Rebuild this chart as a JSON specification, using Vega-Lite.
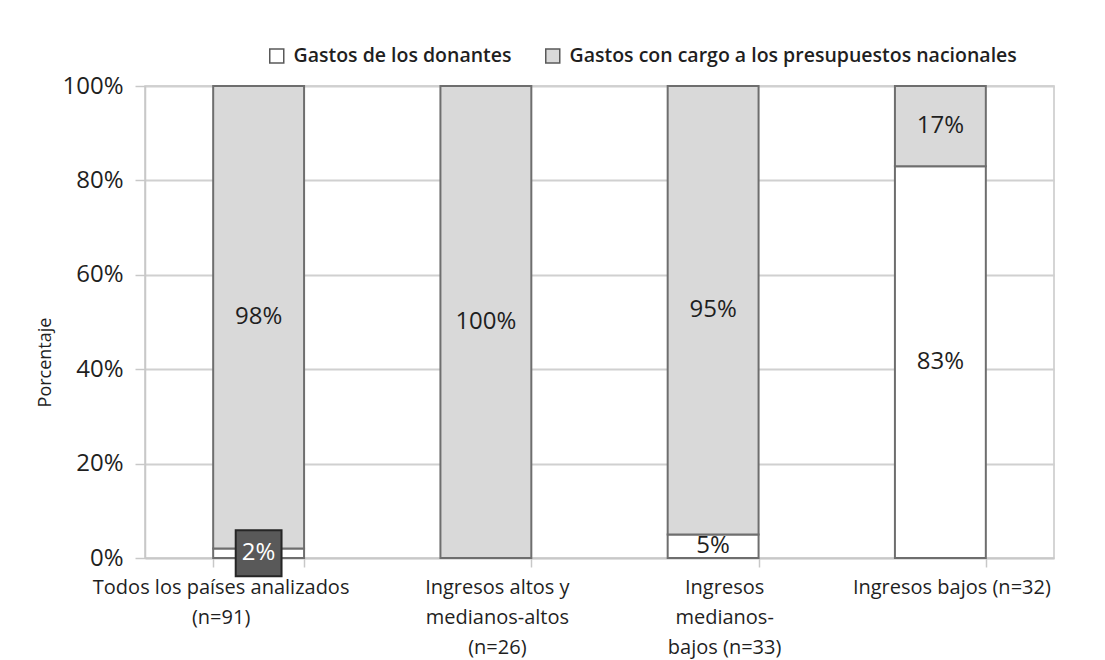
{
  "$schema": "https://vega.github.io/schema/vega-lite/v6.json",
  "width": 909,
  "height": 472,
  "autosize": {"type": "none"},
  "padding": {"left": 145, "top": 86, "right": 51, "bottom": 102},
  "background": "white",
  "config": {
    "font": "Open Sans",
    "view": {"stroke": "#c8c8c8", "strokeWidth": 1.5}
  },
  "data": {
    "values": [
      {"cat": "Todos los países analizados|(n=91)", "serie": "Gastos de los donantes", "valor": 2, "orden": 1, "etiqueta": "2%", "caja": true},
      {"cat": "Todos los países analizados|(n=91)", "serie": "Gastos con cargo a los presupuestos nacionales", "valor": 98, "orden": 2, "etiqueta": "98%", "caja": false},
      {"cat": "Ingresos altos y|medianos-altos|(n=26)", "serie": "Gastos de los donantes", "valor": 0, "orden": 1, "etiqueta": "", "caja": false},
      {"cat": "Ingresos altos y|medianos-altos|(n=26)", "serie": "Gastos con cargo a los presupuestos nacionales", "valor": 100, "orden": 2, "etiqueta": "100%", "caja": false},
      {"cat": "Ingresos|medianos-|bajos (n=33)", "serie": "Gastos de los donantes", "valor": 5, "orden": 1, "etiqueta": "5%", "caja": false},
      {"cat": "Ingresos|medianos-|bajos (n=33)", "serie": "Gastos con cargo a los presupuestos nacionales", "valor": 95, "orden": 2, "etiqueta": "95%", "caja": false},
      {"cat": "Ingresos bajos (n=32)", "serie": "Gastos de los donantes", "valor": 83, "orden": 1, "etiqueta": "83%", "caja": false},
      {"cat": "Ingresos bajos (n=32)", "serie": "Gastos con cargo a los presupuestos nacionales", "valor": 17, "orden": 2, "etiqueta": "17%", "caja": false}
    ]
  },
  "transform": [
    {"stack": "valor", "groupby": ["cat"], "sort": [{"field": "orden", "order": "ascending"}], "as": ["v0", "v1"]},
    {"calculate": "(datum.v0 + datum.v1) / 2", "as": "mid"}
  ],
  "encoding": {
    "x": {
      "field": "cat",
      "type": "nominal",
      "sort": null,
      "scale": {"paddingInner": 0.6, "paddingOuter": 0.3},
      "axis": {
        "title": null,
        "labelAngle": 0,
        "labelExpr": "split(datum.label, '|')",
        "labelFontSize": 20,
        "labelLineHeight": 30,
        "labelPadding": 10,
        "labelLimit": 300,
        "labelColor": "#1f1f1f",
        "labelOffset": {"condition": {"test": "indexof(datum.label, 'Todos') >= 0", "value": -38}, "value": 11},
        "tickBand": "extent",
        "tickSize": 9,
        "tickColor": "#c8c8c8",
        "tickWidth": 1.5,
        "domainColor": "#c8c8c8",
        "domainWidth": 1.5
      }
    }
  },
  "layer": [
    {
      "mark": {"type": "bar", "stroke": "#6e6e6e", "strokeWidth": 2},
      "encoding": {
        "y": {
          "field": "v0",
          "type": "quantitative",
          "scale": {"domain": [0, 100]},
          "axis": {
            "values": [0, 20, 40, 60, 80, 100],
            "labelExpr": "datum.value + '%'",
            "grid": true,
            "gridColor": "#d0d0d0",
            "gridWidth": 2,
            "tickSize": 10,
            "tickColor": "#c8c8c8",
            "tickWidth": 1.5,
            "domainColor": "#c8c8c8",
            "domainWidth": 1.5,
            "labelFontSize": 24,
            "labelPadding": 12,
            "labelColor": "#1f1f1f",
            "title": "Porcentaje",
            "titleFontSize": 18,
            "titleFontWeight": "normal",
            "titleColor": "#1f1f1f",
            "titleX": -100,
            "titleY": 276,
            "titleAlign": "center",
            "titleBaseline": "middle"
          }
        },
        "y2": {"field": "v1"},
        "fill": {
          "field": "serie",
          "type": "nominal",
          "scale": {
            "domain": ["Gastos de los donantes", "Gastos con cargo a los presupuestos nacionales"],
            "range": ["#ffffff", "#d9d9d9"]
          },
          "legend": {
            "title": null,
            "orient": "none",
            "legendX": 122,
            "legendY": -40,
            "direction": "horizontal",
            "symbolType": "square",
            "symbolSize": 196,
            "symbolStrokeColor": "#595959",
            "symbolStrokeWidth": 1.5,
            "labelFontSize": 19.5,
            "labelFontWeight": 600,
            "labelColor": "#1f1f1f",
            "labelLimit": 600,
            "labelOffset": 7,
            "columnPadding": 30
          }
        }
      }
    },
    {
      "transform": [{"filter": "datum.caja"}],
      "mark": {"type": "point", "shape": "square", "size": 2100, "filled": true, "fill": "#595959", "stroke": "#262626", "strokeWidth": 2, "opacity": 1},
      "encoding": {
        "y": {"field": "mid", "type": "quantitative"}
      }
    },
    {
      "transform": [{"filter": "datum.valor > 0"}],
      "mark": {"type": "text", "fontSize": 24, "align": "center", "baseline": "middle"},
      "encoding": {
        "y": {"field": "mid", "type": "quantitative"},
        "text": {"field": "etiqueta"},
        "color": {
          "condition": {"test": "datum.caja", "value": "#ffffff"},
          "value": "#1f1f1f"
        }
      }
    }
  ]
}
